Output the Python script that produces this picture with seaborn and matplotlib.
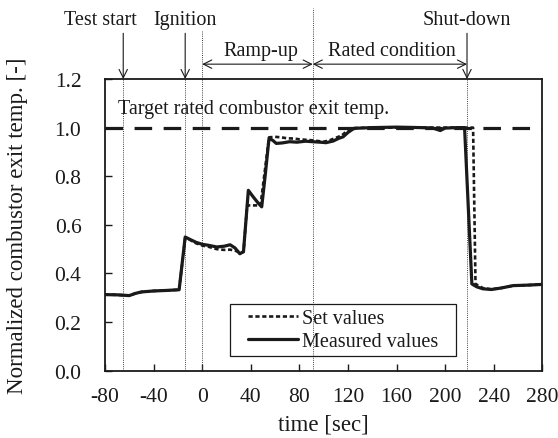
import matplotlib
matplotlib.use("Agg")
import matplotlib.pyplot as plt
from matplotlib.patches import Rectangle
import seaborn as sns
import pandas as pd

sns.set_style("ticks")
plt.rcParams["font.family"] = ["Liberation Serif", "DejaVu Serif"]

# Measured combustor exit temperature (normalized)
meas_t = [-80, -70, -60, -55, -50, -40, -30, -19, -14, -10, -5, 0, 5, 12, 18, 23, 27, 31,
          34, 38, 42, 46, 49, 52, 55, 58, 61, 66, 72, 78, 85, 91, 97, 102, 108, 112, 116,
          120, 125, 140, 160, 180, 190, 196, 200, 210, 216, 222, 226, 231, 238, 246, 256,
          268, 280]
meas_v = [0.313, 0.312, 0.309, 0.318, 0.324, 0.328, 0.330, 0.333, 0.550, 0.540, 0.528,
          0.520, 0.516, 0.509, 0.512, 0.518, 0.505, 0.481, 0.490, 0.742, 0.715, 0.690,
          0.674, 0.810, 0.955, 0.948, 0.935, 0.937, 0.942, 0.940, 0.944, 0.942, 0.940,
          0.938, 0.945, 0.955, 0.962, 0.980, 0.997, 1.000, 1.002, 1.000, 0.998, 0.988,
          0.998, 1.000, 1.000, 0.357, 0.345, 0.337, 0.334, 0.340, 0.350, 0.352, 0.355]

# Set values from the control sequence
set_t = [-80, -70, -60, -55, -50, -40, -30, -19, -14, -10, -5, 0, 5, 12, 18, 23, 27, 31,
         34, 37, 48, 55, 60, 65, 70, 75, 80, 85, 90, 95, 100, 105, 110, 115, 120, 126,
         140, 160, 180, 200, 223, 225, 231, 238, 246, 256, 268, 280]
set_v = [0.313, 0.312, 0.309, 0.318, 0.324, 0.328, 0.330, 0.333, 0.545, 0.538, 0.524,
         0.515, 0.510, 0.500, 0.497, 0.498, 0.494, 0.486, 0.488, 0.680, 0.680, 0.960,
         0.962, 0.960, 0.956, 0.955, 0.952, 0.950, 0.948, 0.945, 0.942, 0.948, 0.958,
         0.968, 0.990, 0.998, 1.000, 1.000, 1.000, 1.000, 1.000, 0.357, 0.340, 0.335,
         0.340, 0.350, 0.352, 0.355]

target_value = 1.0

# Event times
t_test_start = -65
t_ignition = -14
t_ramp_start = 0
t_rated_start = 91
t_shutdown = 218

x_ticks = [-80, -40, 0, 40, 80, 120, 160, 200, 240, 280]
y_ticks = [0.0, 0.2, 0.4, 0.6, 0.8, 1.0, 1.2]

ink = "#1a1a1a"
dot_col = "#444444"
note_fs = 14.5

fig = plt.figure(figsize=(5.58, 4.39), dpi=100)
ax = fig.add_axes([0.1882, 0.1533, 0.7837, 0.6645])

df_meas = pd.DataFrame({"t": meas_t, "v": meas_v})
df_set = pd.DataFrame({"t": set_t, "v": set_v})

# event marker lines inside the plot
for t in [t_test_start, t_ignition, t_ramp_start, t_rated_start, t_shutdown]:
    ax.axvline(t, color=dot_col, lw=0.7, ls=(0, (1, 1.2)), zorder=1)

ax.axhline(target_value, color=ink, lw=2.3, ls=(0, (5.5, 3.6)), zorder=2)

sns.lineplot(data=df_set, x="t", y="v", ax=ax, color=ink, lw=1.9,
             linestyle=(0, (1.6, 1.0)), label="Set values", zorder=3)
sns.lineplot(data=df_meas, x="t", y="v", ax=ax, color=ink, lw=2.3,
             label="Measured values", zorder=4)

ax.set_xlim(-80, 280)
ax.set_ylim(0, 1.2)
ax.set_xticks(x_ticks)
ax.set_xticklabels([str(v) for v in x_ticks])
ax.set_yticks(y_ticks)
ax.set_yticklabels([f"{v:.1f}" for v in y_ticks])
ax.tick_params(axis="both", direction="in", length=5, width=1.0, colors=ink,
               labelsize=15.5, top=False, right=False)
ax.tick_params(axis="y", pad=17)
ax.tick_params(axis="x", pad=12)
for s in ax.spines.values():
    s.set_color(ink)
    s.set_linewidth(1.3)

ax.set_xlabel("time [sec]", fontsize=16.5, color=ink)
ax.set_ylabel("Normalized combustor exit temp. [-]", fontsize=16.5, color=ink)
ax.xaxis.set_label_coords(0.5, -0.145)
ax.yaxis.set_label_coords(-0.176, 0.5)

ax.text(-69, 1.078, "Target rated combustor exit temp.", fontsize=note_fs, color=ink,
        ha="left", va="center")

# event labels and arrows above the frame
arrow_kw = dict(arrowstyle="->", color=ink, lw=0.8, mutation_scale=15,
                shrinkA=0, shrinkB=0)
for t in [t_test_start, t_ignition, t_shutdown]:
    ax.annotate("", xy=(t, 1.2), xytext=(t, 1.388), xycoords="data",
                textcoords="data", arrowprops=arrow_kw, annotation_clip=False)

ax.text(-84, 1.445, "Test start", fontsize=note_fs, color=ink, ha="center",
        va="center", clip_on=False)
ax.text(-14.2, 1.445, "Ignition", fontsize=note_fs, color=ink, ha="center",
        va="center", clip_on=False)
ax.text(217.6, 1.445, "Shut-down", fontsize=note_fs, color=ink, ha="center",
        va="center", clip_on=False)

ax.plot([t_ramp_start, t_ramp_start], [1.2, 1.397], color=dot_col, lw=0.7,
        ls=(0, (1, 1.2)), clip_on=False)
ax.plot([t_rated_start, t_rated_start], [1.2, 1.491], color=dot_col, lw=0.7,
        ls=(0, (1, 1.2)), clip_on=False)

span_kw = dict(arrowstyle="<->", color=ink, lw=0.8, mutation_scale=15,
               shrinkA=0, shrinkB=0)
ax.annotate("", xy=(t_ramp_start, 1.261), xytext=(t_rated_start, 1.261),
            arrowprops=span_kw, annotation_clip=False)
ax.annotate("", xy=(t_rated_start, 1.261), xytext=(t_shutdown, 1.261),
            arrowprops=span_kw, annotation_clip=False)
ax.text(47.9, 1.318, "Ramp-up", fontsize=note_fs, color=ink, ha="center",
        va="center", clip_on=False)
ax.text(155.9, 1.318, "Rated condition", fontsize=note_fs, color=ink, ha="center",
        va="center", clip_on=False)

# legend with a plain rectangular frame
leg = ax.legend(loc="center", bbox_to_anchor=(0.544, 0.1395), borderaxespad=0,
                fontsize=note_fs, frameon=False, handlelength=2.5,
                handletextpad=0.2, borderpad=0.2, labelspacing=0.15)
for txt in leg.get_texts():
    txt.set_color(ink)
ax.add_patch(Rectangle((0.286, 0.049), 0.516, 0.18, transform=ax.transAxes,
                       facecolor="none", edgecolor=ink, lw=0.9, zorder=5))

fig.savefig("out.png", dpi=100)
